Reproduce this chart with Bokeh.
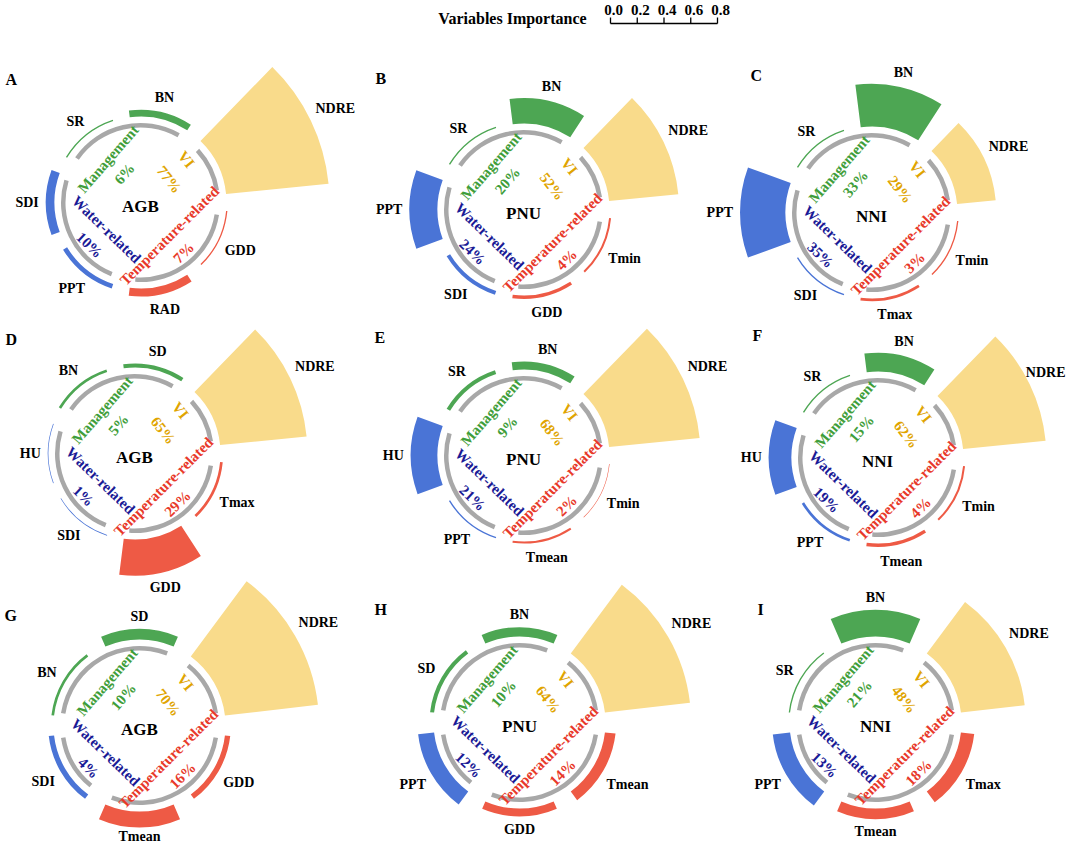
import math
from bokeh.plotting import figure
from bokeh.models import Range1d
from bokeh.core.properties import value
from bokeh.embed import file_html
from bokeh.resources import INLINE

# ---------------- data ----------------
panel_letters = ["A", "B", "C", "D", "E", "F", "G", "H", "I"]
panel_targets = ["AGB", "PNU", "NNI", "AGB", "PNU", "NNI", "AGB", "PNU", "NNI"]

variables = [
    ["NDRE", "BN", "SR", "SDI", "PPT", "RAD", "GDD"],
    ["NDRE", "BN", "SR", "PPT", "SDI", "GDD", "Tmin"],
    ["NDRE", "BN", "SR", "PPT", "SDI", "Tmax", "Tmin"],
    ["NDRE", "SD", "BN", "HU", "SDI", "GDD", "Tmax"],
    ["NDRE", "BN", "SR", "HU", "PPT", "Tmean", "Tmin"],
    ["NDRE", "BN", "SR", "HU", "PPT", "Tmean", "Tmin"],
    ["NDRE", "SD", "BN", "SDI", "Tmean", "GDD"],
    ["NDRE", "BN", "SD", "PPT", "GDD", "Tmean"],
    ["NDRE", "BN", "SR", "PPT", "Tmean", "Tmax"],
]
groups = [
    ["VI", "M", "M", "W", "W", "T", "T"],
    ["VI", "M", "M", "W", "W", "T", "T"],
    ["VI", "M", "M", "W", "W", "T", "T"],
    ["VI", "M", "M", "W", "W", "T", "T"],
    ["VI", "M", "M", "W", "W", "T", "T"],
    ["VI", "M", "M", "W", "W", "T", "T"],
    ["VI", "M", "M", "W", "T", "T"],
    ["VI", "M", "M", "W", "T", "T"],
    ["VI", "M", "M", "W", "T", "T"],
]
importance = [
    [0.77, 0.05, 0.01, 0.065, 0.035, 0.06, 0.01],
    [0.52, 0.19, 0.01, 0.21, 0.03, 0.025, 0.015],
    [0.29, 0.32, 0.01, 0.34, 0.01, 0.02, 0.01],
    [0.65, 0.03, 0.02, 0.005, 0.005, 0.27, 0.02],
    [0.68, 0.06, 0.03, 0.20, 0.01, 0.015, 0.004],
    [0.62, 0.14, 0.01, 0.17, 0.02, 0.025, 0.015],
    [0.70, 0.08, 0.02, 0.04, 0.12, 0.04],
    [0.64, 0.07, 0.03, 0.12, 0.06, 0.08],
    [0.48, 0.20, 0.01, 0.13, 0.08, 0.10],
]
group_names = ["VI", "M", "W", "T"]
group_labels = ["VI", "Management", "Water-related", "Temperature-related"]
group_percent = [
    [77, 6, 10, 7],
    [52, 20, 24, 4],
    [29, 33, 35, 3],
    [65, 5, 1, 29],
    [68, 9, 21, 2],
    [62, 15, 19, 4],
    [70, 10, 4, 16],
    [64, 10, 12, 14],
    [48, 21, 13, 18],
]
scale_ticks = [0.0, 0.2, 0.4, 0.6, 0.8]
scale_tick_labels = ["0.0", "0.2", "0.4", "0.6", "0.8"]

# ---------------- layout / style ----------------
PAGE_H = 862
W, H = 1068, 846
centers = [(148, 210), (531, 217), (879, 220),
           (142, 461), (531, 463), (885, 465),
           (147, 733), (527, 730), (883, 730)]
letter_pos = [(13, 87), (383, 86), (758, 83),
              (13, 347), (382, 345), (760, 343),
              (12, 623), (382, 617), (765, 617)]
SCALE = 133.75          # px per unit of importance
R_IN = 86               # bar inner radius
R_GRAY_IN, R_GRAY_OUT = 75, 79.5
GRAY_GAP = math.radians(9)
BAR_GAP_FRAC = 0.11
VAR_FS = 14

bar_color = {"VI": "#F9DB8B", "M": "#4DA653", "W": "#4A74D6", "T": "#EE5A45"}
txt_color = {"VI": "#E0A400", "M": "#3F9E3A", "W": "#1A1A96", "T": "#E8392A"}
GRAY = "#A8A8A8"
FONT = value("Liberation Serif")

# category label placement: (diag angle, text rotation, text d, text t, pct d, pct t)
cat_place = {
    "VI": (45, -52, 63, 2, 37, 4),
    "M": (135, 49, 53, 8, 31, 9),
    "W": (225, -44, 43, -5, 66, -6),
    "T": (315, 45, 44, -3, 66, -5),
}

EM = {'N': .722, 'D': .722, 'R': .722, 'E': .667, 'B': .667, 'S': .556, 'I': .389,
      'P': .611, 'T': .667, 'G': .778, 'H': .778, 'U': .722, 'A': .722,
      'm': .833, 'e': .444, 'a': .5, 'n': .556, 'i': .278, 'x': .5}


def text_w(s, fs):
    return sum(EM.get(c, .55) for c in s) * fs


def Y(ry):
    return PAGE_H - ry


p = figure(width=W, height=H, x_range=Range1d(8, 8 + W), y_range=Range1d(PAGE_H - 8 - H, PAGE_H - 8),
           output_backend="svg", toolbar_location=None, min_border=0)
p.axis.visible = False
p.grid.visible = False
p.outline_line_color = None
p.background_fill_color = "white"
p.border_fill_color = "white"

X_MAX = 8 + W - 3
Y_MIN = PAGE_H - 8 - H + 10

for k in range(9):
    cx, cyr = centers[k]
    cy = Y(cyr)
    vs, gs, vals = variables[k], groups[k], importance[k]
    n = len(vs)
    slot = 2 * math.pi / n
    gap = BAR_GAP_FRAC * slot

    # gray ring per group
    gx, gy, gs0, gs1 = [], [], [], []
    for g in group_names:
        idx = [i for i, gg in enumerate(gs) if gg == g]
        if not idx:
            continue
        gs0.append(min(idx) * slot + GRAY_GAP)
        gs1.append((max(idx) + 1) * slot - GRAY_GAP)
        gx.append(cx)
        gy.append(cy)
    p.annular_wedge(x=gx, y=gy, inner_radius=R_GRAY_IN, outer_radius=R_GRAY_OUT,
                    start_angle=gs0, end_angle=gs1, fill_color=GRAY, line_color=None)

    # bars
    bx, by, ro, a0, a1, cols = [], [], [], [], [], []
    lx, ly, lt = [], [], []
    for i in range(n):
        outer = R_IN + vals[i] * SCALE
        bx.append(cx)
        by.append(cy)
        ro.append(outer)
        a0.append(i * slot + gap)
        a1.append((i + 1) * slot - gap)
        cols.append(bar_color[gs[i]])
        th = (i + 0.5) * slot
        w = text_w(vs[i], VAR_FS)
        r_lab = outer + 7 + abs(math.cos(th)) * w / 2 + abs(math.sin(th)) * 5.5
        x_l = min(cx + r_lab * math.cos(th), X_MAX - w / 2)
        y_l = max(cy + r_lab * math.sin(th), Y_MIN)
        lx.append(x_l)
        ly.append(y_l)
        lt.append(vs[i])
    p.annular_wedge(x=bx, y=by, inner_radius=R_IN, outer_radius=ro,
                    start_angle=a0, end_angle=a1, fill_color=cols, line_color=None)
    p.text(x=lx, y=ly, text=lt, text_font=FONT, text_font_style="bold",
           text_font_size=f"{VAR_FS}px", text_align="center", text_baseline="middle",
           text_color="black")

    # category labels and percentages
    for j, g in enumerate(group_names):
        phi, rho, d1, t1, d2, t2 = cat_place[g]
        ph, rh = math.radians(phi), math.radians(rho)
        u = (math.cos(ph), math.sin(ph))
        v = (math.cos(rh), math.sin(rh))
        tx = cx + d1 * u[0] + t1 * v[0]
        ty = cy + d1 * u[1] + t1 * v[1]
        px_ = cx + d2 * u[0] + t2 * v[0]
        py_ = cy + d2 * u[1] + t2 * v[1]
        p.text(x=[tx, px_], y=[ty, py_], text=[group_labels[j], f"{group_percent[k][j]}%"],
               angle=rh, text_font=FONT, text_font_style="bold", text_font_size="15px",
               text_align="center", text_baseline="middle", text_color=txt_color[g])

    # center target and panel letter
    p.text(x=[cx], y=[cy - 4], text=[panel_targets[k]], text_font=FONT, text_font_style="bold",
           text_font_size="17px", text_align="center", text_baseline="middle", text_color="black")
    lxp, lyp = letter_pos[k]
    p.text(x=[lxp], y=[Y(lyp)], text=[panel_letters[k]], text_font=FONT, text_font_style="bold",
           text_font_size="16px", text_align="left", text_baseline="middle", text_color="black")

# importance scale bar
SX0, SY = 618, Y(31)
p.text(x=[520], y=[Y(26)], text=["Variables Importance"], text_font=FONT, text_font_style="bold",
       text_font_size="16px", text_align="center", text_baseline="middle", text_color="black")
p.segment(x0=[SX0], y0=[SY], x1=[SX0 + max(scale_ticks) * SCALE], y1=[SY], line_color="black", line_width=1.3)
tx = [SX0 + t * SCALE for t in scale_ticks]
p.segment(x0=tx, y0=[SY] * len(tx), x1=tx, y1=[SY + 6] * len(tx), line_color="black", line_width=1.3)
p.text(x=[x + 3 for x in tx], y=[Y(17)] * len(tx), text=scale_tick_labels, text_font=FONT,
       text_font_style="bold", text_font_size="15px", text_align="center", text_baseline="middle",
       text_color="black")

open("out.html", "w").write(file_html(p, INLINE))
